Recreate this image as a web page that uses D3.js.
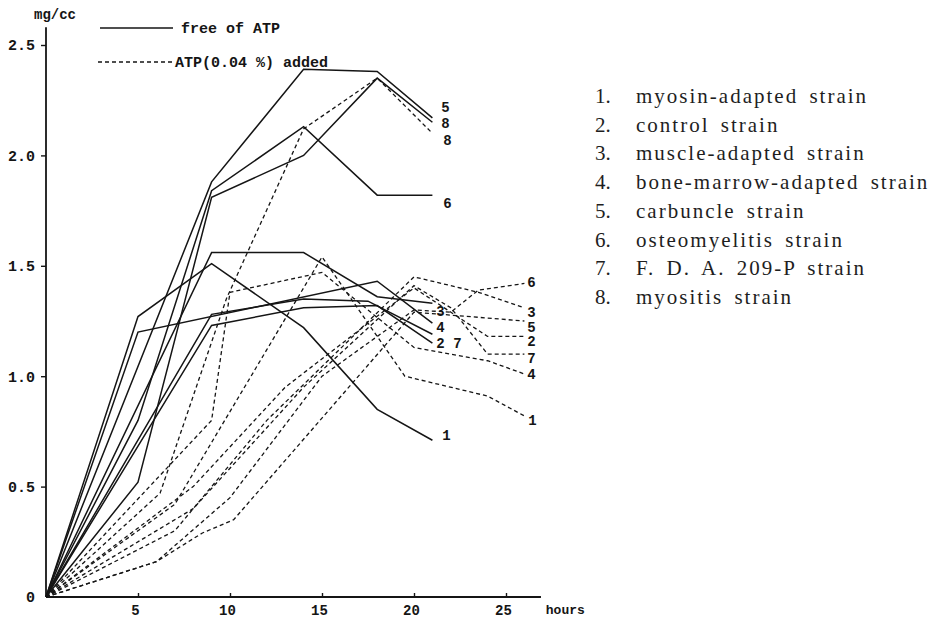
<!DOCTYPE html>
<html>
<head>
<meta charset="utf-8">
<script src="https://cdn.jsdelivr.net/npm/d3@7"></script>
<style>
  body { margin: 0; background: #fff; }
  svg { display: block; }
  .mono { font-family: "Liberation Mono", "DejaVu Sans Mono", monospace; font-weight: bold; fill: #151515; }
  .serif { font-family: "Liberation Serif", "DejaVu Serif", serif; fill: #1e1e1e; }
</style>
</head>
<body>
<svg id="chart" width="940" height="620"></svg>
<script>
// Strains, numbered as in the key
const strainNames = [
  "myosin-adapted strain",
  "control strain",
  "muscle-adapted strain",
  "bone-marrow-adapted strain",
  "carbuncle strain",
  "osteomyelitis strain",
  "F. D. A. 209-P strain",
  "myositis strain"
];

// Growth curves without ATP: [hours, mg/cc]
const free1 = [[0, 0], [5, 1.27], [9, 1.51], [14, 1.22], [18, 0.85], [21, 0.71]];
const free2 = [[0, 0], [9, 1.23], [14, 1.31], [18, 1.32], [21, 1.15]];
const free3 = [[0, 0], [9, 1.56], [14, 1.56], [18, 1.36], [21, 1.33]];
const free4 = [[0, 0], [5, 1.20], [18, 1.43], [21, 1.24]];
const free5 = [[0, 0], [9, 1.88], [14, 2.39], [18, 2.38], [21, 2.17]];
const free6 = [[0, 0], [5, 0.80], [9, 1.84], [14, 2.13], [18, 1.82], [21, 1.82]];
const free7 = [[0, 0], [9, 1.28], [14, 1.35], [17.5, 1.34], [21, 1.19]];
const free8 = [[0, 0], [5, 0.52], [9, 1.81], [14, 2.00], [18, 2.35], [21, 2.15]];

// Growth curves with ATP (0.04 %) added: [hours, mg/cc]
const atp1 = [[0, 0], [7, 0.42], [12, 1.12], [15, 1.54], [19.5, 1.00], [24, 0.91], [26, 0.82]];
const atp2 = [[0, 0], [8, 0.50], [13, 0.95], [20, 1.40], [24, 1.18], [26, 1.18]];
const atp3 = [[0, 0], [7, 0.30], [12, 0.80], [20, 1.45], [23.5, 1.38], [26, 1.31]];
const atp4 = [[0, 0], [9, 0.80], [10, 1.38], [15, 1.47], [20, 1.13], [24, 1.07], [26, 1.01]];
const atp5 = [[0, 0], [6, 0.16], [8.5, 0.29], [10.2, 0.35], [20, 1.29], [26, 1.25]];
const atp6 = [[0, 0], [6, 0.16], [10, 0.45], [15, 1.00], [20, 1.30], [22, 1.29], [23.5, 1.39], [26, 1.42]];
const atp7 = [[0, 0], [8, 0.40], [14, 0.95], [20, 1.41], [22, 1.31], [24, 1.10], [26, 1.10]];
const atp8 = [[0, 0], [6.2, 0.47], [9.8, 1.35], [14, 2.12], [18, 2.35], [21, 2.10]];

// Axis ticks
const hourTicks = [5, 10, 15, 20, 25];
const valueTicks = [0, 0.5, 1.0, 1.5, 2.0, 2.5];

const freeSeries = [free1, free2, free3, free4, free5, free6, free7, free8];
const atpSeries = [atp1, atp2, atp3, atp4, atp5, atp6, atp7, atp8];

// Nudges for the curve-end numbers so that crowded ones stay readable
const freeLabelNudge = [[14, -5], [8, 0], [8, 8], [8, 4], [13, -11], [15, 8], [25, 9], [13, 1]];
const atpLabelNudge = [[8, 4], [7, 5], [7, 4], [7, 0], [7, 6], [7, -1], [7, 4], [15, 7]];

const svg = d3.select("#chart");

const x = d3.scaleLinear().domain([0, 25]).range([46, 506]);
const y = d3.scaleLinear().domain([0, 2.5]).range([597, 45]);

const ink = "#151515";

// Axes
const xAxis = d3.axisBottom(x)
  .tickValues(hourTicks)
  .tickSize(-4)
  .tickPadding(8)
  .tickFormat(d3.format("d"));
const gx = svg.append("g").attr("transform", `translate(0,${y(0)})`).call(xAxis);
gx.select(".domain").remove();
gx.selectAll(".tick line").attr("stroke", ink).attr("stroke-width", 1.4);
gx.selectAll(".tick text").attr("class", "mono").attr("font-size", 14).attr("dx", -3).attr("fill", ink);

svg.append("line")
  .attr("x1", x(0)).attr("x2", x(26.9))
  .attr("y1", y(0)).attr("y2", y(0))
  .attr("stroke", ink).attr("stroke-width", 1.8);

svg.append("text").attr("class", "mono")
  .attr("x", x(27.0) + 3).attr("y", y(0) + 17)
  .attr("font-size", 13)
  .text("hours");

const yAxis = d3.axisLeft(y)
  .tickValues(valueTicks)
  .tickSize(5)
  .tickPadding(6)
  .tickFormat(d => d === 0 ? "0" : d3.format(".1f")(d));
const gy = svg.append("g").attr("transform", `translate(${x(0)},0)`).call(yAxis);
gy.select(".domain").remove();
gy.selectAll(".tick line").attr("stroke", ink).attr("stroke-width", 1.4)
  .filter(d => d === 0).remove();
gy.selectAll(".tick text").attr("class", "mono").attr("font-size", 15).attr("fill", ink);

svg.append("line")
  .attr("x1", x(0)).attr("x2", x(0))
  .attr("y1", y(0)).attr("y2", y(2.58))
  .attr("stroke", ink).attr("stroke-width", 1.8);

svg.append("text").attr("class", "mono")
  .attr("x", 34).attr("y", 19)
  .attr("font-size", 14)
  .text("mg/cc");

// Curves
const line = d3.line().x(d => x(d[0])).y(d => y(d[1]));

svg.append("g").selectAll("path")
  .data(atpSeries)
  .join("path")
  .attr("d", line)
  .attr("fill", "none")
  .attr("stroke", ink)
  .attr("stroke-width", 1.3)
  .attr("stroke-dasharray", "4,3");

svg.append("g").selectAll("path")
  .data(freeSeries)
  .join("path")
  .attr("d", line)
  .attr("fill", "none")
  .attr("stroke", ink)
  .attr("stroke-width", 1.5)
  .attr("stroke-linejoin", "miter");

// Curve-end numbers
function endLabels(series, nudges) {
  svg.append("g").selectAll("text")
    .data(series)
    .join("text")
    .attr("class", "mono")
    .attr("font-size", 14)
    .attr("text-anchor", "middle")
    .attr("x", (s, i) => x(s[s.length - 1][0]) + nudges[i][0])
    .attr("y", (s, i) => y(s[s.length - 1][1]) + nudges[i][1] + 5)
    .text((s, i) => String(i + 1));
}
endLabels(freeSeries, freeLabelNudge);
endLabels(atpSeries, atpLabelNudge);

// Line-style key
const key = svg.append("g");
key.append("line").attr("x1", 100).attr("x2", 173).attr("y1", 28).attr("y2", 28)
  .attr("stroke", ink).attr("stroke-width", 1.5);
key.append("text").attr("class", "mono").attr("x", 181).attr("y", 33)
  .attr("font-size", 15).text("free of ATP");
key.append("line").attr("x1", 98).attr("x2", 173).attr("y1", 62).attr("y2", 62)
  .attr("stroke", ink).attr("stroke-width", 1.3).attr("stroke-dasharray", "4,3");
key.append("text").attr("class", "mono").attr("x", 175).attr("y", 67)
  .attr("font-size", 15).text("ATP(0.04 %) added");

// Strain key
const strainKey = svg.append("g").attr("class", "serif").attr("font-size", 21);
strainKey.selectAll("text.num")
  .data(strainNames)
  .join("text")
  .attr("class", "num")
  .attr("x", 595)
  .attr("y", (d, i) => 103 + i * 28.7)
  .text((d, i) => `${i + 1}.`);
strainKey.selectAll("text.name")
  .data(strainNames)
  .join("text")
  .attr("class", "name")
  .attr("x", 636)
  .attr("y", (d, i) => 103 + i * 28.7)
  .attr("letter-spacing", 2)
  .attr("word-spacing", 4)
  .text(d => d);
</script>
</body>
</html>
